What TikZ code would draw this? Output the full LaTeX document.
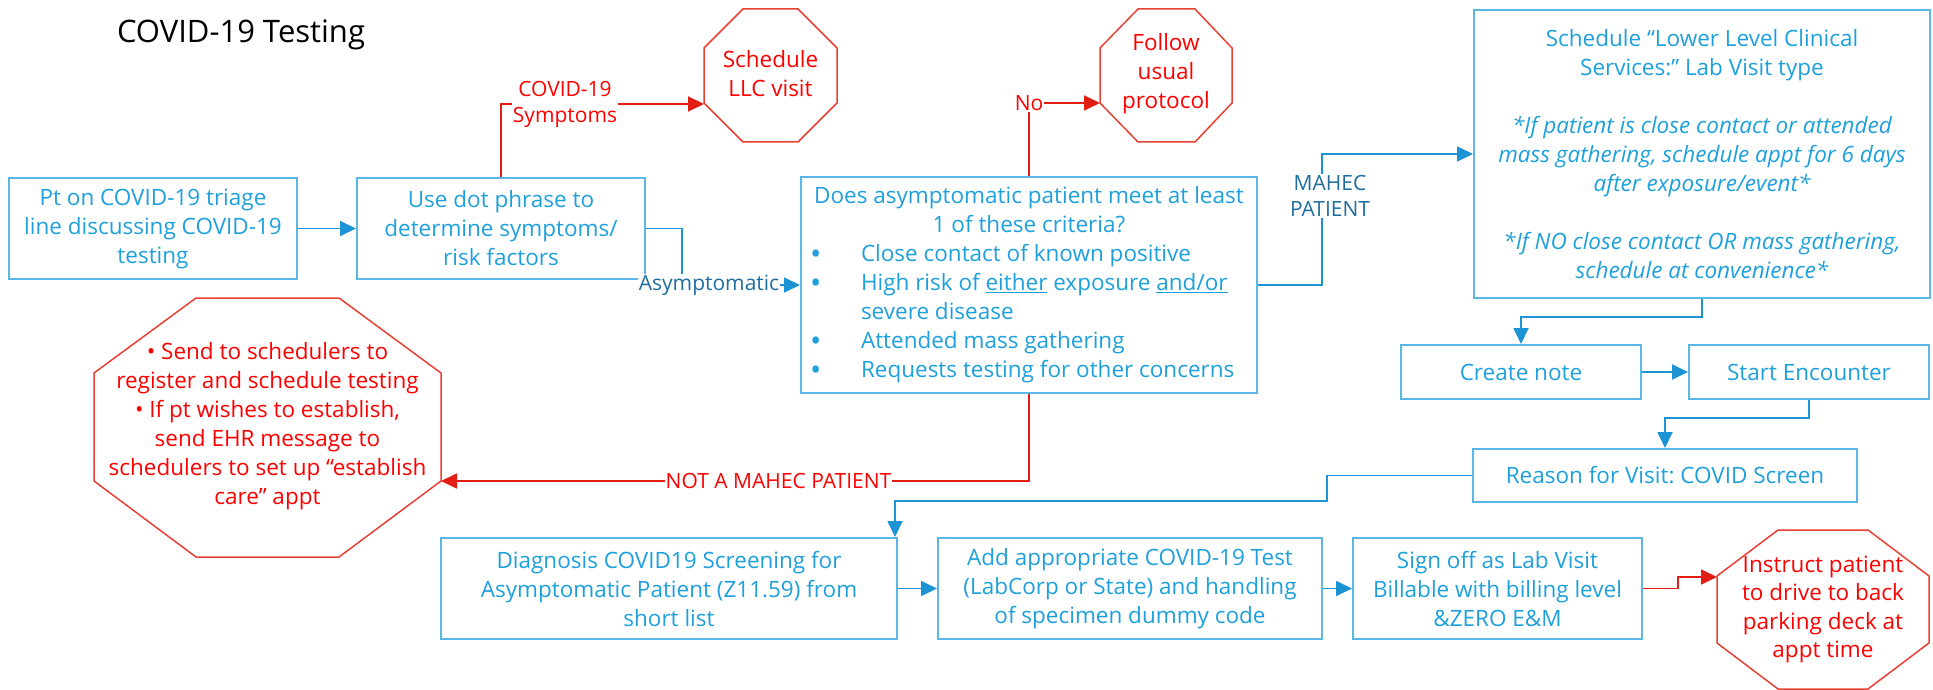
\documentclass[tikz,border=0pt]{standalone}
\usepackage{fontspec}
\setmainfont{Open Sans}
\usetikzlibrary{arrows.meta}
\frenchspacing
\definecolor{boxblue}{RGB}{91,183,230}
\definecolor{txtblue}{RGB}{29,160,220}
\definecolor{lnblue}{RGB}{28,148,212}
\definecolor{lblblue}{RGB}{30,110,160}
\definecolor{octred}{RGB}{232,64,50}
\definecolor{lnred}{RGB}{226,30,20}
\definecolor{txtred}{RGB}{255,0,0}
\newcommand\mainfs{\fontsize{22.5}{29}\selectfont}
\newcommand\lblfs{\fontsize{21}{26}\selectfont}
\newcommand\bigbul{\makebox[52pt][l]{\hspace{1pt}\raisebox{-3pt}{\fontsize{30}{29}\selectfont •}}}
\tikzset{
  box/.style={draw=boxblue, line width=2pt, text=txtblue, align=center, inner sep=0pt, font=\mainfs},
  octagon/.style={draw=octred, line width=1.5pt, line join=miter},
  octtext/.style={text=txtred, align=center, inner sep=0pt, font=\mainfs},
  bconn/.style={draw=lnblue, line width=1.8pt, -{Triangle[length=16pt,width=15pt]}},
  rconn/.style={draw=lnred, line width=1.8pt, -{Triangle[length=16pt,width=15pt]}},
  rlabel/.style={fill=white, text=txtred, align=center, inner sep=1pt, font=\lblfs},
  blabel/.style={fill=white, text=lblblue, align=center, inner sep=1pt, font=\lblfs},
}
\begin{document}
\begin{tikzpicture}[x=1pt, y=-1pt]
\useasboundingbox (0,0) rectangle (1933,690);

% title
\node[font=\fontsize{31}{36}\selectfont, text=black, inner sep=0pt] (title) at (241,35) {COVID-19 Testing};

% boxes
\node[box, minimum width=288pt, minimum height=101pt] (A) at (153,228.5)
  {Pt on COVID-19 triage\\line discussing COVID-19\\testing};
\node[box, minimum width=288pt, minimum height=101pt] (B) at (501,228.5)
  {Use dot phrase to\\determine symptoms/\\risk factors};
\node[box, minimum width=456pt, minimum height=216pt, align=left] (C) at (1029,285)
  {\makebox[440pt][c]{Does asymptomatic patient meet at least}\\
   \makebox[440pt][c]{1 of these criteria?}\\
   \bigbul Close contact of known positive\\
   \bigbul High risk of \underline{either} exposure \underline{and/or}\\
   \makebox[52pt][l]{}severe disease\\
   \bigbul Attended mass gathering\\
   \bigbul Requests testing for other concerns};
\node[box, minimum width=456pt, minimum height=288pt] (D) at (1702,154)
  {Schedule “Lower Level Clinical\\Services:” Lab Visit type\\[29pt]
   \itshape *If patient is close contact or attended\\
   \itshape mass gathering, schedule appt for 6 days\\
   \itshape after exposure/event*\\[29pt]
   \itshape *If NO close contact OR mass gathering,\\
   \itshape schedule at convenience*};
\node[box, minimum width=240pt, minimum height=54pt] (Cr) at (1521,372) {Create note};
\node[box, minimum width=240pt, minimum height=54pt] (St) at (1809,372) {Start Encounter};
\node[box, minimum width=384pt, minimum height=53pt] (Re) at (1665,475.5) {Reason for Visit: COVID Screen};
\node[box, minimum width=456pt, minimum height=101pt] (Dg) at (669,588.5)
  {Diagnosis COVID19 Screening for\\Asymptomatic Patient (Z11.59) from\\short list};
\node[box, minimum width=384pt, minimum height=101pt] (Ad) at (1130,588.5)
  {Add appropriate COVID-19 Test\\(LabCorp or State) and handling\\of specimen dummy code};
\node[box, minimum width=289pt, minimum height=101pt] (Sg) at (1497.5,588.5)
  {Sign off as Lab Visit\\Billable with billing level\\\&ZERO E\&M};

% octagons
\draw[octagon] (743,9) -- (798,9) -- (837,48) -- (837,103) -- (798,142) -- (743,142) -- (704,103) -- (704,48) -- cycle;
\coordinate (o1in) at (704,104);
\node[octtext] (o1) at (770.5,74) {Schedule\\LLC visit};

\draw[octagon] (1138,9) -- (1195,9) -- (1232,48) -- (1232,103) -- (1195,142) -- (1138,142) -- (1100,103) -- (1100,48) -- cycle;
\coordinate (o2in) at (1100,103);
\node[octtext] (o2) at (1166,74) {Follow\\usual\\protocol};

\draw[octagon] (196,298) -- (339,298) -- (441,373) -- (441,481) -- (339,557) -- (196,557) -- (94,481) -- (94,373) -- cycle;
\coordinate (bigin) at (441,481);
\node[octtext] (big) at (267.5,426.5) {• Send to schedulers to\\register and schedule testing\\• If pt wishes to establish,\\send EHR message to\\schedulers to set up “establish\\care” appt};

\draw[octagon] (1778,530) -- (1868,530) -- (1929,576) -- (1929,643) -- (1868,689) -- (1778,689) -- (1717,643) -- (1717,576) -- cycle;
\coordinate (o3in) at (1717,577);
\node[octtext, font=\fontsize{22.5}{28.4}\selectfont] (o3) at (1823,609.5) {Instruct patient\\to drive to back\\parking deck at\\appt time};

% connectors
\draw[bconn] (A.east) -- (B.west);
\draw[rconn] (B.north) |- (o1in);
\node[rlabel] (lsym) at (565,104) {COVID-19\\Symptoms};
\draw[bconn] (B.east) -- ++(36,0) |- (C.west);
\node[blabel] (lasym) at (709,285) {Asymptomatic};
\draw[rconn] (C.north) |- (o2in);
\node[rlabel] (lno) at (1029,103) {No};
\draw[bconn] (C.east) -- ++(64,0) |- (D.west);
\node[blabel] (lmahec) at (1330,196) {MAHEC\\PATIENT};
\draw[rconn] (C.south) |- (bigin);
\node[rlabel] (lnot) at (778.5,481) {NOT A MAHEC PATIENT};
\draw[bconn] (D.south) -- ++(0,18) -| (Cr.north);
\draw[bconn] (Cr.east) -- (St.west);
\draw[bconn] (St.south) -- ++(0,18) -| (Re.north);
\draw[bconn] (Re.west) -- ++(-145,0) -- ++(0,25.5) -| ([xshift=-3pt]Dg.north east);
\draw[bconn] (Dg.east) -- (Ad.west);
\draw[bconn] (Ad.east) -- (Sg.west);
\draw[rconn] (Sg.east) -- ++(35,0) |- (o3in);
\end{tikzpicture}
\end{document}
